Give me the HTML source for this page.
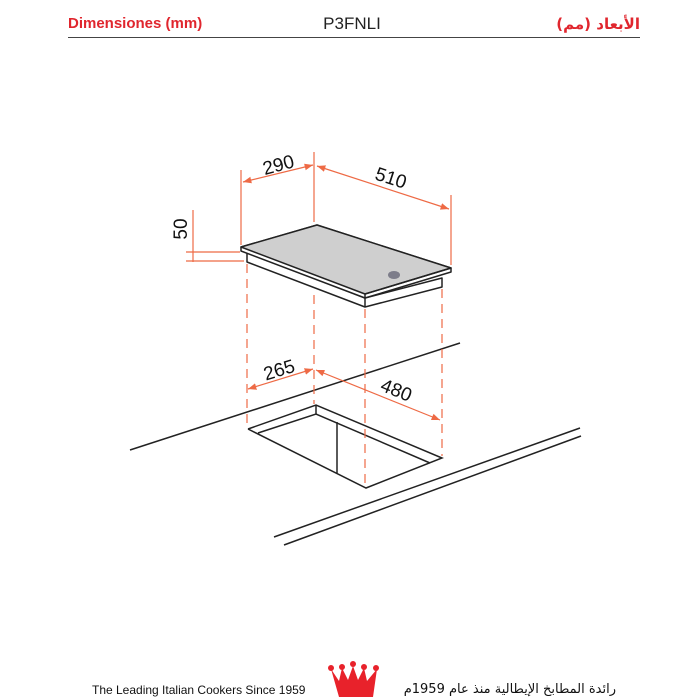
<!DOCTYPE html>
<html><head><meta charset="utf-8"><style>
html,body{margin:0;padding:0;background:#fff;width:700px;height:700px;overflow:hidden;position:relative}
svg{display:block;position:absolute;left:0;top:0}
.ar{position:absolute;direction:rtl;text-align:right;white-space:nowrap;font-family:"DejaVu Sans",sans-serif}
</style></head><body>
<svg width="700" height="700" viewBox="0 0 700 700" xmlns="http://www.w3.org/2000/svg">
<defs>
<marker id="a" viewBox="0 0 10 10" refX="10" refY="5" markerWidth="7" markerHeight="7" orient="auto-start-reverse"><path d="M0,1 L10,5 L0,9 z" fill="#ee6a45"/></marker>
</defs>
<text x="68" y="28" font-family="Liberation Sans, sans-serif" font-weight="bold" font-size="15" fill="#e0262e">Dimensiones (mm)</text>
<text x="352" y="29" text-anchor="middle" font-family="Liberation Sans, sans-serif" font-size="17" fill="#222">P3FNLI</text>
<line x1="68" y1="37.5" x2="640" y2="37.5" stroke="#444" stroke-width="1"/>

<g stroke="#222" stroke-width="1.5" fill="none">
<line x1="130" y1="450" x2="460" y2="343"/>
<line x1="274" y1="537" x2="580" y2="428"/>
<line x1="284" y1="545" x2="581" y2="436"/>
<polyline points="248,429 316,405 442,458 366,488 248,429"/>
<line x1="316" y1="405" x2="316" y2="414"/>
<polyline points="258,433 316,414 430,463"/>
<line x1="337" y1="422" x2="337" y2="473"/>
</g>
<g stroke="#222" stroke-width="1.5" stroke-linejoin="round">
<polygon points="247,252 365,298 442,278 442,287 365,307 247,262" fill="#fff"/>
<polygon points="241,247 317,225 451,268 451,272 365,298 241,251" fill="#fff"/>
<polygon points="241,247 317,225 451,268 365,294" fill="#cfcfcf"/>
<line x1="365" y1="294" x2="365" y2="307"/>
<line x1="365" y1="294" x2="451" y2="268"/>
</g>
<ellipse cx="394" cy="275" rx="6" ry="4" fill="#7d7d8a"/>

<g stroke="#ee6a45" stroke-width="1.2" fill="none">
<line x1="241" y1="170" x2="241" y2="245"/>
<line x1="314" y1="152" x2="314" y2="222"/>
<line x1="451" y1="195" x2="451" y2="265"/>
<line x1="193" y1="210" x2="193" y2="262"/>
<line x1="186" y1="252" x2="240" y2="252"/>
<line x1="186" y1="261" x2="244" y2="261"/>
<line x1="243" y1="182" x2="313" y2="165" marker-start="url(#a)" marker-end="url(#a)"/>
<line x1="317" y1="166" x2="449" y2="209" marker-start="url(#a)" marker-end="url(#a)"/>
<line x1="248" y1="389" x2="313" y2="369" marker-start="url(#a)" marker-end="url(#a)"/>
<line x1="316" y1="370" x2="440" y2="420" marker-start="url(#a)" marker-end="url(#a)"/>
<g stroke-dasharray="9,6">
<line x1="247" y1="264" x2="247" y2="428"/>
<line x1="314" y1="295" x2="314" y2="404"/>
<line x1="365" y1="309" x2="365" y2="487"/>
<line x1="442" y1="289" x2="442" y2="456"/>
</g>
</g>
<g font-family="Liberation Sans, sans-serif" font-size="19" fill="#111" text-anchor="middle">
<text transform="translate(280,171) rotate(-15)">290</text>
<text transform="translate(389,184) rotate(18)">510</text>
<text transform="translate(187,229) rotate(-90)">50</text>
<text transform="translate(281,376) rotate(-17)">265</text>
<text transform="translate(394,396) rotate(22)">480</text>
</g>

<text x="92" y="694" font-family="Liberation Sans, sans-serif" font-size="12" fill="#111">The Leading Italian Cookers Since 1959</text>
<g fill="#e8222b">
<polygon points="331,669 339,697 373,697 377,669 367,681 364,668 358,680 353,666 348,680 342,668 339,681"/>
<circle cx="331" cy="668" r="3"/><circle cx="342" cy="667" r="3"/><circle cx="353" cy="664" r="3"/><circle cx="364" cy="667" r="3"/><circle cx="376" cy="668" r="3"/>
</g>
</svg>
<div class="ar" style="right:60px;top:15px;font-size:15px;font-weight:bold;color:#e0262e">الأبعاد (مم)</div>
<div class="ar" style="right:84px;top:682px;font-size:13px;color:#111">رائدة المطابخ الإيطالية منذ عام 1959م</div>
</body></html>
